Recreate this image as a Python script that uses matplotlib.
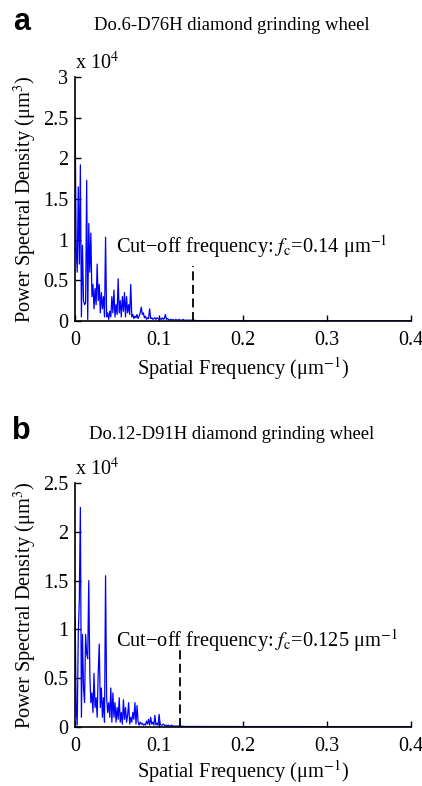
import numpy as np
import matplotlib
matplotlib.use("Agg")
import matplotlib.pyplot as plt

plt.rcParams["font.family"] = ["Liberation Serif", "DejaVu Serif"]
plt.rcParams["mathtext.fontset"] = "stix"

# frequency step of the PSD (um^-1)
step = 0.00125

# panel a: PSD values (x 1e4 um^3) from f = 0 upward
psd_a = [2.50, 0.90, 0.60, 1.65, 0.70, 1.92, 0.05, 0.93, 0.25, 0.20,
         0.22, 1.73, 0.02, 1.20, 0.60, 1.08, 0.30, 0.45, 0.15, 0.40,
         0.20, 0.70, 0.25, 0.45, 0.10, 0.35, 0.15, 0.30, 0.05, 1.03,
         0.05, 0.10, 0.02, 0.12, 0.05, 0.30, 0.10, 0.38, 0.05, 0.20,
         0.08, 0.52, 0.10, 0.25, 0.05, 0.30, 0.12, 0.35, 0.05, 0.30,
         0.10, 0.20, 0.08, 0.45, 0.05, 0.08, 0.03, 0.06, 0.04, 0.08,
         0.03, 0.06, 0.10, 0.17, 0.08, 0.10, 0.04, 0.06, 0.02, 0.04,
         0.03, 0.15, 0.03, 0.04, 0.02, 0.03, 0.04, 0.02, 0.04, 0.03,
         0.02, 0.03, 0.02, 0.04, 0.02, 0.03, 0.08, 0.02, 0.03, 0.02,
         0.01, 0.02, 0.01, 0.02, 0.01, 0.01, 0.02, 0.01, 0.01, 0.02,
         0.01, 0.01, 0.01, 0.02, 0.01, 0.01, 0.01, 0.01, 0.01, 0.01,
         0.01, 0.01, 0.01]
tail_f_a = [0.145, 0.2, 0.25, 0.3, 0.35, 0.4]
tail_a = [0.005, 0.004, 0.004, 0.003, 0.003, 0.003]

# panel b
psd_b = [1.12, 0.20, 0.02, 0.95, 1.30, 2.25, 0.10, 0.95, 0.40, 0.25,
         0.95, 0.75, 0.70, 1.50, 0.55, 0.25, 0.35, 0.15, 0.55, 0.20,
         0.30, 0.10, 0.55, 0.85, 0.20, 0.40, 0.10, 0.30, 0.05, 1.55,
         0.30, 0.15, 0.25, 0.10, 0.40, 0.05, 0.35, 0.10, 0.25, 0.05,
         0.20, 0.08, 0.30, 0.05, 0.15, 0.03, 0.28, 0.08, 0.20, 0.05,
         0.12, 0.25, 0.03, 0.10, 0.05, 0.15, 0.08, 0.25, 0.03, 0.22,
         0.05, 0.02, 0.05, 0.03, 0.04, 0.02, 0.03, 0.02, 0.06, 0.03,
         0.08, 0.02, 0.10, 0.03, 0.05, 0.02, 0.12, 0.02, 0.04, 0.02,
         0.13, 0.03, 0.02, 0.02, 0.03, 0.02, 0.01, 0.02, 0.01, 0.02,
         0.01, 0.01, 0.02, 0.01, 0.01, 0.01, 0.01, 0.01, 0.01, 0.01,
         0.01]
tail_f_b = [0.13, 0.2, 0.25, 0.3, 0.35, 0.4]
tail_b = [0.006, 0.005, 0.005, 0.004, 0.004, 0.004]

titles = ["Do.6-D76H diamond grinding wheel", "Do.12-D91H diamond grinding wheel"]
letters = ["a", "b"]
cutoffs = [0.14, 0.125]
cut_labels = ["0.14", "0.125"]
dash_tops = [0.68, 0.80]
ylims = [3.0, 2.5]
yticks = [[0, 0.5, 1, 1.5, 2, 2.5, 3], [0, 0.5, 1, 1.5, 2, 2.5]]
text_y = [0.91, 0.89]
title_y = [1.213, 1.197]
letter_y = [1.225, 1.213]
xlabel_pad = [4, 2]

fig = plt.figure(figsize=(4.22, 7.86), dpi=100)
axes_rect = [[0.178, 0.5916, 0.796, 0.3104], [0.178, 0.075, 0.796, 0.3105]]

for k, (psd, tf, tv) in enumerate([(psd_a, tail_f_a, tail_a), (psd_b, tail_f_b, tail_b)]):
    ax = fig.add_axes(axes_rect[k])
    f = np.arange(len(psd)) * step
    x = np.concatenate([f, tf])
    y = np.concatenate([psd, tv])
    ax.plot(x, y, color="#0000ff", lw=0.9)
    ax.plot([cutoffs[k], cutoffs[k]], [0, dash_tops[k]], color="black",
            ls=(0, (5, 2.5)), lw=1.3)
    ax.text(0.0488, text_y[k],
            "Cut\u2212off frequency: $f_{\\mathrm{c}}$=" + cut_labels[k] + " μm$^{-1}$",
            fontsize=14.7, va="center", ha="left")

    ax.set_xlim(0, 0.4)
    ax.set_ylim(0, ylims[k])
    ax.set_xticks([0, 0.1, 0.2, 0.3, 0.4])
    ax.set_xticklabels(["0", "0.1", "0.2", "0.3", "0.4"])
    ax.set_yticks(yticks[k])
    ax.set_yticklabels(["0" if v == 0 else f"{v:g}" for v in yticks[k]])
    ax.tick_params(direction="in", length=4, labelsize=14.5, width=1)
    ax.tick_params(axis="x", pad=7)
    ax.tick_params(axis="y", pad=5)
    ax.spines["top"].set_visible(False)
    ax.spines["right"].set_visible(False)
    ax.spines["left"].set_linewidth(1.2)
    ax.spines["bottom"].set_linewidth(1.2)

    ax.set_xlabel("Spatial Frequency (μm$^{-1}$)", fontsize=14.7, labelpad=xlabel_pad[k])
    ax.set_ylabel("Power Spectral Density (μm$^{3}$)", fontsize=14.7, labelpad=3)

    ax.text(0.0, 1.01, "x 10$^{4}$", transform=ax.transAxes, fontsize=14.5,
            ha="left", va="bottom")
    ax.text(0.467, title_y[k], titles[k], transform=ax.transAxes, fontsize=13.4,
            ha="center", va="center")
    ax.text(-0.16, letter_y[k], letters[k], transform=ax.transAxes, fontsize=22,
            fontweight="bold", family="Liberation Sans", ha="center", va="center")

fig.savefig("out.png", dpi=100)
